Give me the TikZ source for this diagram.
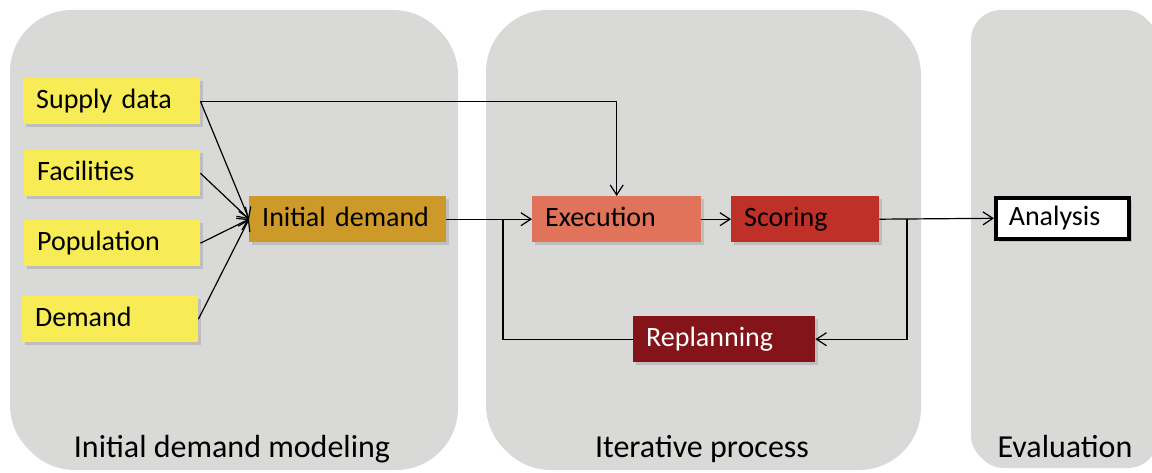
\documentclass[tikz,border=0pt]{standalone}
\usepackage{fontspec}
\setmainfont{Carlito}
\usepackage{xcolor}
\usetikzlibrary{arrows.meta,calc,positioning,shadows}
\definecolor{panelgray}{RGB}{217,217,216}
\definecolor{inputyellow}{RGB}{247,236,85}
\definecolor{demandgold}{RGB}{205,154,41}
\definecolor{execsalmon}{RGB}{224,115,90}
\definecolor{scorered}{RGB}{190,48,40}
\definecolor{replandark}{RGB}{132,20,26}
\tikzset{%
	panel/.style    = {fill=panelgray, drop shadow={shadow xshift=3pt, shadow yshift=-3pt, opacity=0.3}},
	phase/.style    = {anchor=base, font=\fontsize{32}{36}\selectfont},
	box/.style      = {rectangle, anchor=north west, minimum height=46pt, inner xsep=13pt, inner ysep=0pt, text height=20pt, text depth=6pt, align=left, font=\fontsize{28}{32}\selectfont, drop shadow={shadow xshift=3pt, shadow yshift=-3pt, opacity=0.3}},
	arrow/.style    = {line width=1.2pt, -{Straight Barb[length=10pt,width=13pt]}},
	link/.style     = {line width=1.2pt},
}

\begin{document}
\begin{tikzpicture}[x=1pt,y=-1pt]
	\useasboundingbox (0,0) rectangle (1152,473);
	\clip (0,0) rectangle (1152,473);
	
	% phases
	\path[panel, rounded corners=62pt] (10,10) rectangle (455,467);
	\path[panel, rounded corners=62pt] (486,10) rectangle (918,467);
	\path[panel, rounded corners=30pt] (971,10) rectangle (1155,465);
	\node[phase] (modeling) at (232,457) {Initial demand modeling};
	\node[phase] (iterative) at (702,457) {Iterative process};
	\node[phase] (evaluation) at (1065,457) {Evaluation};
	
	% inputs
	\node[box, fill=inputyellow, minimum width=177pt, text width=151pt] (supply) at (23,78) {Supply data};
	\node[box, fill=inputyellow, minimum width=176pt, text width=150pt] (facilities) at (24,150) {Facilities};
	\node[box, fill=inputyellow, minimum width=176pt, text width=150pt] (population) at (24,220) {Population};
	\node[box, fill=inputyellow, minimum width=176pt, text width=150pt] (demand) at (22,296) {Demand};
	\node[box, fill=demandgold, minimum width=197pt, text width=171pt] (initial) at (249,196) {Initial demand};
	
	% loop
	\node[box, fill=execsalmon, minimum width=169pt, text width=143pt] (execution) at (532,196) {Execution};
	\node[box, fill=scorered, minimum width=148pt, text width=122pt] (scoring) at (731,196) {Scoring};
	\node[box, fill=replandark, text=white, minimum width=182pt, text width=156pt] (replanning) at (633,316) {Replanning};
	\node[box, fill=white, draw, line width=3.6pt, minimum width=133pt, text width=107pt, minimum height=41pt] (analysis) at (994,196) {Analysis};
	
	\coordinate (loopin) at (503,219);
	\coordinate (loopout) at (907,219);
	
	\foreach \src in {supply,facilities,population,demand} \draw[arrow] (\src.east) -- (initial.west);
	\draw[arrow] (supply.east) -| (execution.north);
	\draw[arrow] (initial.east) -- (execution.west);
	\draw[arrow] (execution.east) -- (scoring.west);
	\draw[arrow] (scoring.east) -- (analysis.west);
	\draw[arrow] (loopout) |- (replanning.east);
	\draw[link] (replanning.west) -| (loopin);
\end{tikzpicture}
\end{document}
